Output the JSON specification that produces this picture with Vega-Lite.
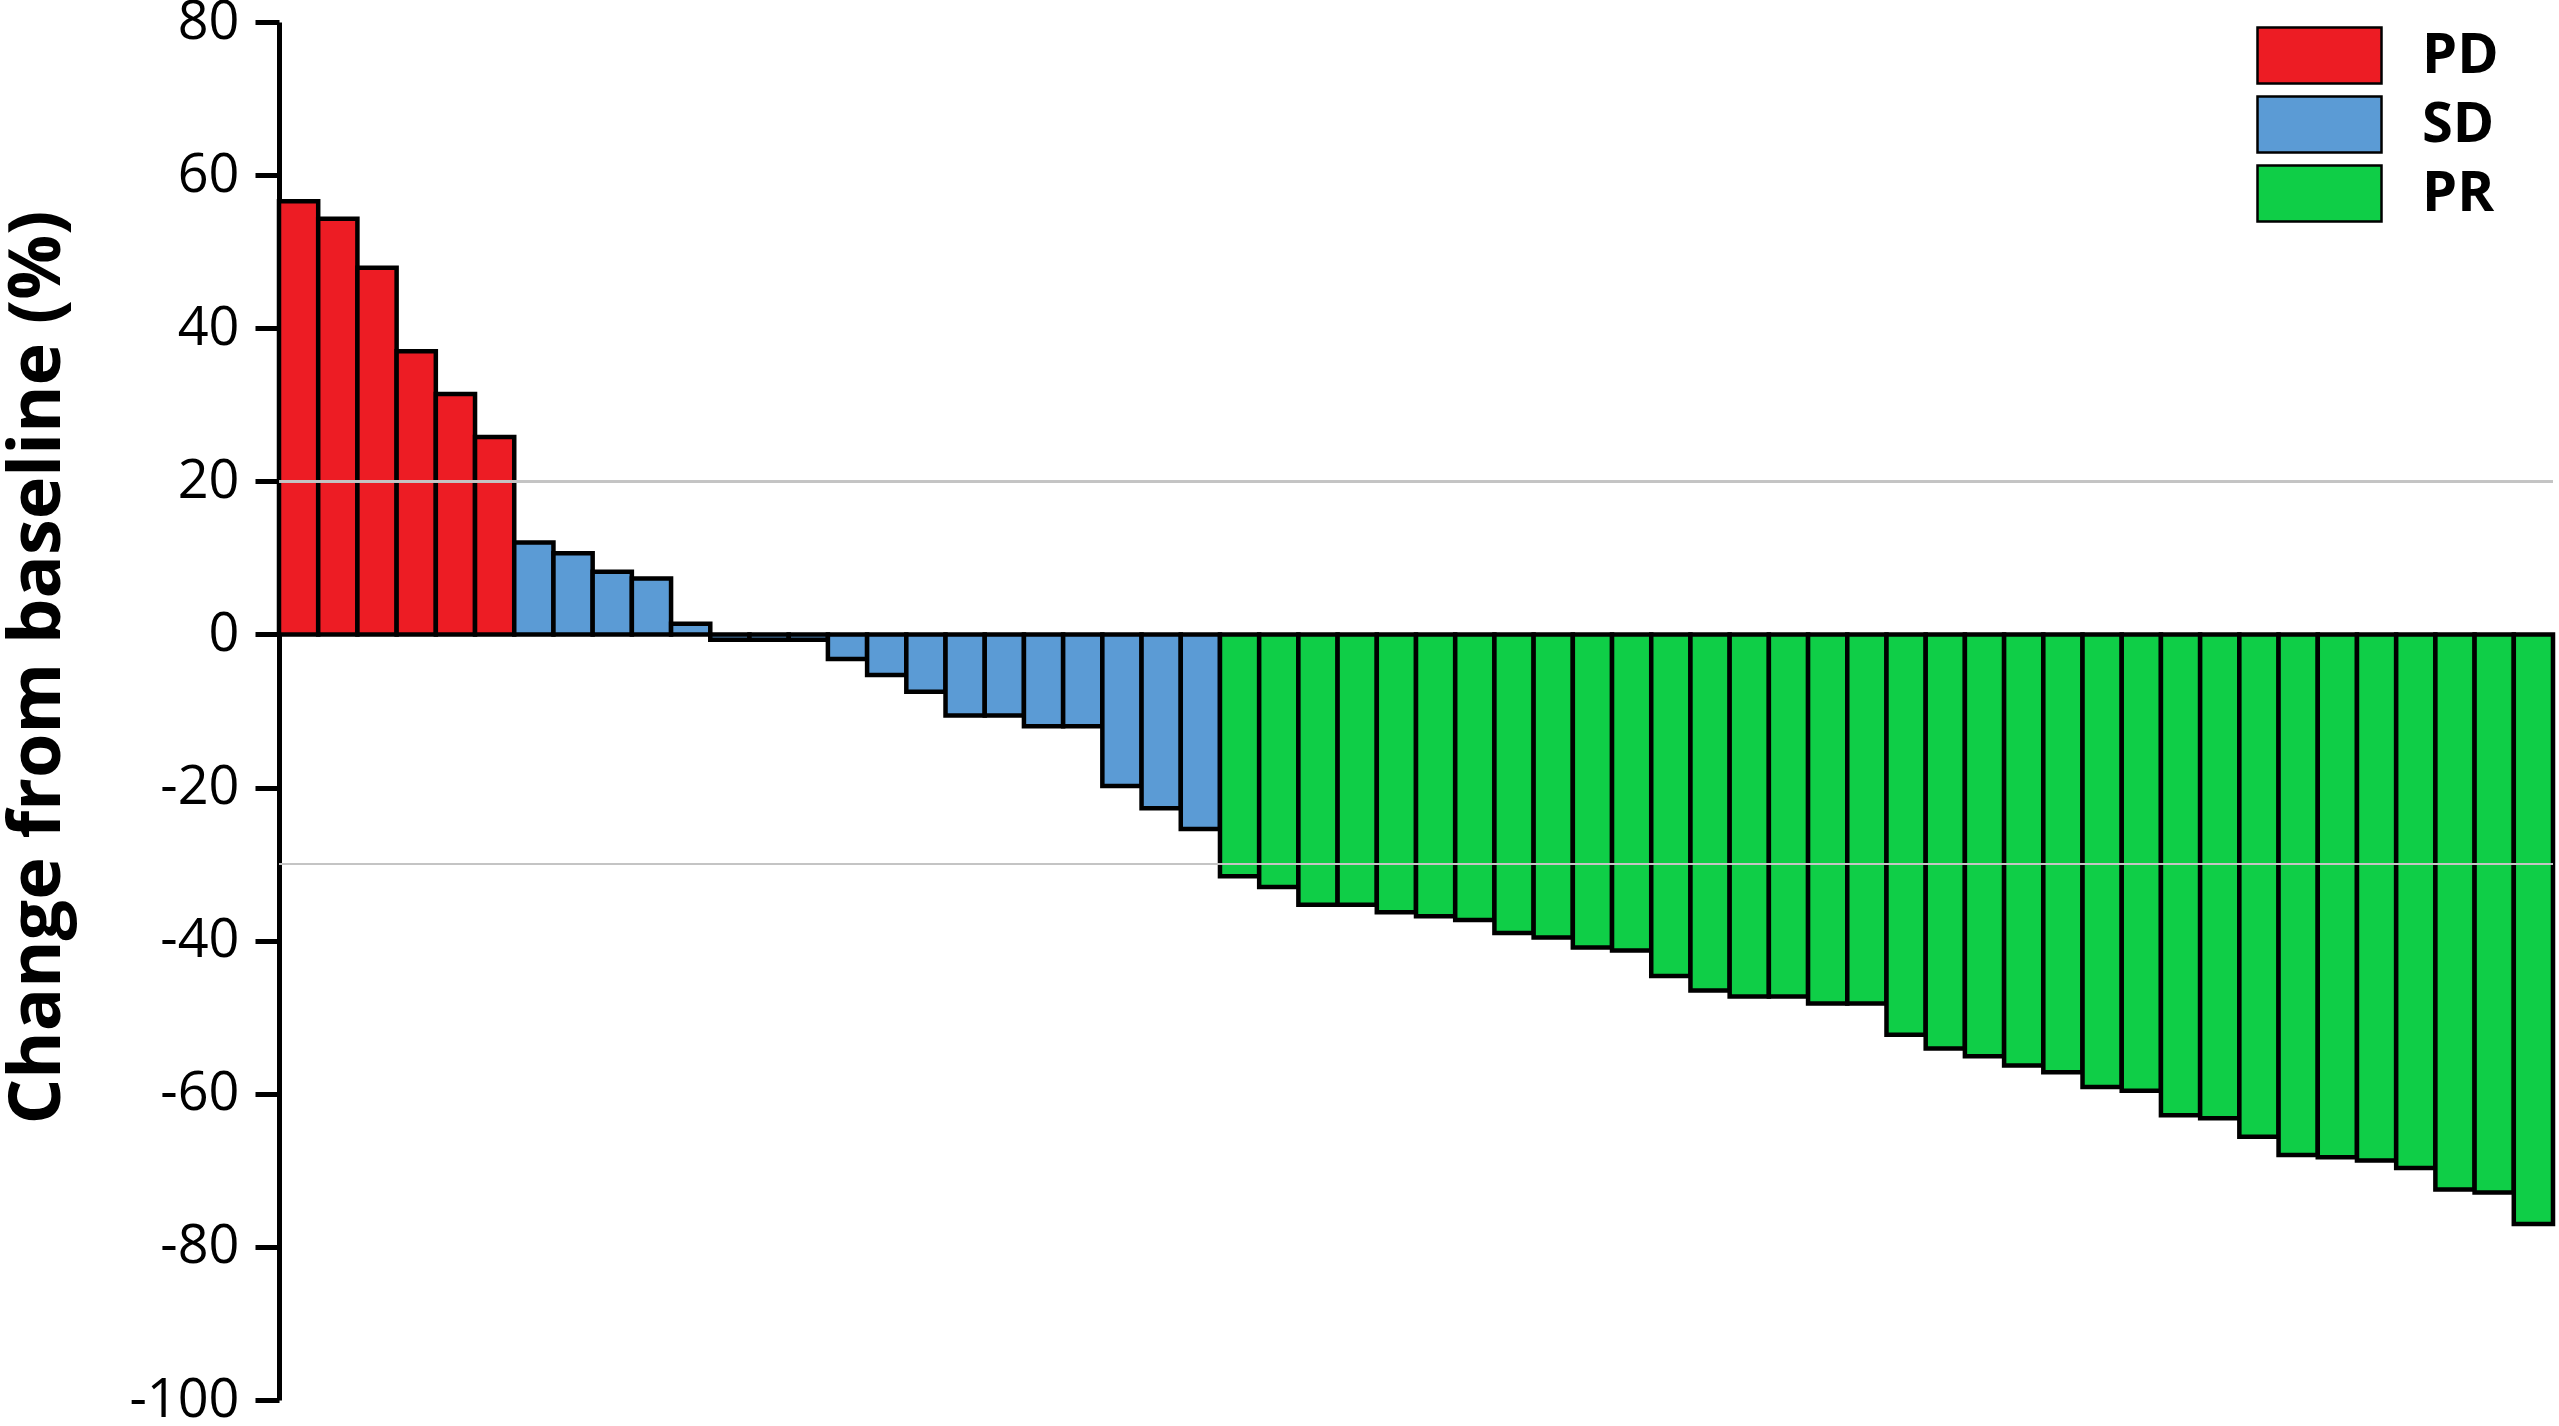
{
  "$schema": "https://vega.github.io/schema/vega-lite/v6.json",
  "autosize": "none",
  "width": 2274,
  "height": 1378,
  "padding": {"left": 279, "top": 22, "right": 6, "bottom": 26},
  "background": "white",
  "config": {"view": {"stroke": null}, "font": "Open Sans"},
  "data": {"values": [
    {"id": 1, "group": "PD", "change": 56.6},
    {"id": 2, "group": "PD", "change": 54.3},
    {"id": 3, "group": "PD", "change": 47.9},
    {"id": 4, "group": "PD", "change": 37.0},
    {"id": 5, "group": "PD", "change": 31.4},
    {"id": 6, "group": "PD", "change": 25.8},
    {"id": 7, "group": "SD", "change": 12.0},
    {"id": 8, "group": "SD", "change": 10.6},
    {"id": 9, "group": "SD", "change": 8.2},
    {"id": 10, "group": "SD", "change": 7.3},
    {"id": 11, "group": "SD", "change": 1.4},
    {"id": 12, "group": "SD", "change": -0.7},
    {"id": 13, "group": "SD", "change": -0.7},
    {"id": 14, "group": "SD", "change": -0.7},
    {"id": 15, "group": "SD", "change": -3.2},
    {"id": 16, "group": "SD", "change": -5.3},
    {"id": 17, "group": "SD", "change": -7.5},
    {"id": 18, "group": "SD", "change": -10.6},
    {"id": 19, "group": "SD", "change": -10.6},
    {"id": 20, "group": "SD", "change": -12.0},
    {"id": 21, "group": "SD", "change": -12.0},
    {"id": 22, "group": "SD", "change": -19.8},
    {"id": 23, "group": "SD", "change": -22.7},
    {"id": 24, "group": "SD", "change": -25.4},
    {"id": 25, "group": "PR", "change": -31.6},
    {"id": 26, "group": "PR", "change": -33.0},
    {"id": 27, "group": "PR", "change": -35.3},
    {"id": 28, "group": "PR", "change": -35.3},
    {"id": 29, "group": "PR", "change": -36.3},
    {"id": 30, "group": "PR", "change": -36.8},
    {"id": 31, "group": "PR", "change": -37.3},
    {"id": 32, "group": "PR", "change": -39.0},
    {"id": 33, "group": "PR", "change": -39.6},
    {"id": 34, "group": "PR", "change": -40.9},
    {"id": 35, "group": "PR", "change": -41.3},
    {"id": 36, "group": "PR", "change": -44.6},
    {"id": 37, "group": "PR", "change": -46.5},
    {"id": 38, "group": "PR", "change": -47.3},
    {"id": 39, "group": "PR", "change": -47.3},
    {"id": 40, "group": "PR", "change": -48.2},
    {"id": 41, "group": "PR", "change": -48.2},
    {"id": 42, "group": "PR", "change": -52.3},
    {"id": 43, "group": "PR", "change": -54.1},
    {"id": 44, "group": "PR", "change": -55.1},
    {"id": 45, "group": "PR", "change": -56.3},
    {"id": 46, "group": "PR", "change": -57.2},
    {"id": 47, "group": "PR", "change": -59.1},
    {"id": 48, "group": "PR", "change": -59.6},
    {"id": 49, "group": "PR", "change": -62.8},
    {"id": 50, "group": "PR", "change": -63.2},
    {"id": 51, "group": "PR", "change": -65.6},
    {"id": 52, "group": "PR", "change": -68.0},
    {"id": 53, "group": "PR", "change": -68.3},
    {"id": 54, "group": "PR", "change": -68.7},
    {"id": 55, "group": "PR", "change": -69.7},
    {"id": 56, "group": "PR", "change": -72.5},
    {"id": 57, "group": "PR", "change": -72.9},
    {"id": 58, "group": "PR", "change": -77.0}
  ]},
  "layer": [
    {
      "mark": {"type": "bar", "stroke": "black", "strokeWidth": 4.5, "opacity": 1},
      "encoding": {
        "x": {"field": "id", "type": "ordinal", "scale": {"paddingInner": 0, "paddingOuter": 0}, "axis": null},
        "y": {
          "field": "change", "type": "quantitative",
          "scale": {"domain": [-100, 80], "nice": false},
          "axis": {
            "values": [-100, -80, -60, -40, -20, 0, 20, 40, 60, 80],
            "labelExpr": "datum.value < 0 ? '-' + abs(datum.value) : '' + datum.value",
            "grid": false,
            "domainColor": "black", "domainWidth": 5,
            "tickColor": "black", "tickWidth": 5, "tickSize": 24,
            "labelFontSize": 54, "labelColor": "black", "labelPadding": 16,
            "labelFont": "Open Sans", "labelOverlap": false, "labelFlush": false,
            "title": "Change from baseline (%)",
            "titleFont": "Open Sans", "titleFontSize": 72, "titleFontWeight": "bold", "titleColor": "black",
            "titleAngle": 270, "titleAlign": "center", "titleBaseline": "middle",
            "titleX": -242, "titleY": 645
          }
        },
        "color": {
          "field": "group", "type": "nominal",
          "scale": {"domain": ["PD", "SD", "PR"], "range": ["#ED1C24", "#5B9BD5", "#0FCE47"]},
          "legend": {
            "title": null, "orient": "none", "legendX": 2008, "legendY": 1, "padding": 0,
            "symbolType": "M-2,-0.9L2,-0.9L2,0.9L-2,0.9Z", "symbolSize": 3844,
            "symbolStrokeColor": "black", "symbolStrokeWidth": 2.5, "symbolOpacity": 1,
            "labelFont": "Open Sans", "labelFontSize": 56, "labelFontWeight": "bold", "labelColor": "black",
            "labelOffset": 70, "rowPadding": 2
          }
        }
      }
    },
    {"mark": {"type": "rule", "color": "#C4C4C4", "strokeWidth": 2}, "encoding": {"y": {"datum": 20}}},
    {"mark": {"type": "rule", "color": "#C4C4C4", "strokeWidth": 2}, "encoding": {"y": {"datum": -30}}}
  ]
}
